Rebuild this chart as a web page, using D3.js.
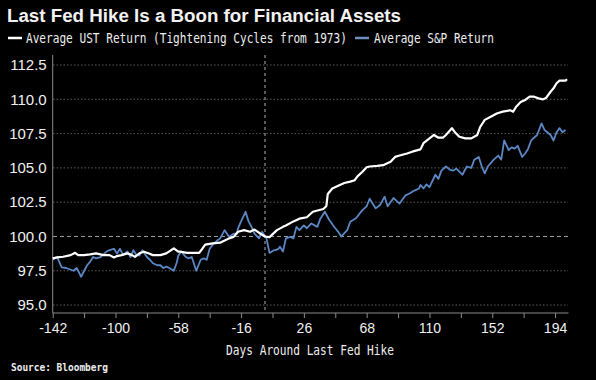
<!DOCTYPE html>
<html>
<head>
<meta charset="utf-8">
<script src="https://cdn.jsdelivr.net/npm/d3@7"></script>
<style>
  html, body { margin: 0; padding: 0; background: #000; }
  svg { display: block; }
</style>
</head>
<body>
<svg id="chart" width="596" height="380"></svg>
<script>
const title = "Last Fed Hike Is a Boon for Financial Assets";
const seriesNames = ["Average UST Return (Tightening Cycles from 1973)", "Average S&P Return"];
const xAxisTitle = "Days Around Last Fed Hike";
const source = "Source: Bloomberg";
const xTicks = [-142, -100, -58, -16, 26, 68, 110, 152, 194];
const yTicks = [95.0, 97.5, 100.0, 102.5, 105.0, 107.5, 110.0, 112.5];

const ustDays = [-142,-139,-135,-130,-127,-125,-121,-117,-113,-108,-104,-101,-99,-96,-92,-89,-87,-84,-81,-78,-75,-70,-66,-61,-58,-57,-52,-48,-44,-42,-40,-35,-30,-27,-24,-21,-18,-14,-10,-7,-3,0,3,8,12,14,19,23,28,32,39,41,42,45,49,53,57,60,62,65,68,70,75,79,84,87,90,95,99,104,106,110,113,116,119,121,124,125,127,130,134,138,142,144,147,151,155,159,164,166,168,171,174,177,180,183,186,188,191,193,195,197,201,202];
const ustValues = [98.40,98.47,98.52,98.64,98.81,98.64,98.64,98.69,98.77,98.64,98.64,98.47,98.57,98.64,98.77,98.64,98.52,98.77,98.89,98.77,98.64,98.64,98.77,99.13,98.89,98.90,98.80,98.80,98.80,99.10,99.40,99.50,99.55,99.70,99.86,99.97,100.34,100.46,100.34,100.50,100.20,100.00,99.95,100.46,100.70,100.80,101.10,101.30,101.40,101.80,102.00,102.20,103.10,103.50,103.70,103.90,104.00,104.10,104.40,104.70,105.05,105.10,105.15,105.20,105.45,105.80,105.90,106.05,106.20,106.35,106.80,107.15,107.40,107.20,107.20,107.40,107.76,107.90,107.60,107.27,107.15,107.15,107.40,108.00,108.50,108.73,108.97,109.10,109.20,109.10,109.46,109.80,109.95,110.19,110.19,110.07,110.00,110.10,110.55,110.80,111.17,111.36,111.36,111.46];

const spDays = [-142,-139,-136,-133,-128,-126,-124,-123,-119,-117,-115,-113,-110,-106,-104,-101,-99,-97,-95,-92,-90,-88,-86,-84,-82,-79,-77,-75,-72,-70,-68,-66,-64,-61,-59,-58,-56,-53,-51,-49,-46,-43,-41,-39,-37,-35,-32,-30,-27,-24,-21,-19,-18,-16,-13,-11,-9,-7,-4,-2,-1,1,3,6,7,9,10,12,14,17,19,21,23,26,28,31,35,37,40,43,47,49,51,55,57,59,61,65,68,70,74,77,80,82,86,90,94,97,99,101,103,104,106,108,110,114,116,118,121,124,126,128,132,135,138,140,143,145,147,149,153,156,158,160,163,165,167,169,172,174,176,178,182,185,187,191,193,195,197,199,201];
const spValues = [98.30,98.50,97.75,97.70,97.50,97.70,97.30,97.06,97.90,98.15,98.50,98.40,98.50,98.90,99.00,99.10,98.75,99.10,98.65,98.90,98.50,99.00,98.65,98.60,99.00,98.50,98.30,98.05,97.90,97.90,97.70,97.80,97.70,97.50,98.10,98.60,98.90,98.50,98.40,98.50,97.50,98.30,98.40,98.30,99.10,99.40,99.70,99.86,100.46,99.97,100.20,100.20,100.60,101.10,101.80,101.10,100.70,100.20,99.86,100.34,100.20,99.86,98.80,99.00,99.00,99.10,99.25,98.90,99.86,99.97,99.86,100.70,100.46,100.80,100.60,100.95,100.70,101.30,101.80,101.20,100.60,100.34,100.00,100.46,101.07,101.20,101.35,101.90,102.20,102.75,102.05,102.30,102.90,102.20,102.80,102.40,103.00,103.15,103.30,103.40,103.50,103.75,103.50,103.80,103.60,104.50,104.20,104.80,105.10,104.85,104.80,104.95,104.50,105.10,105.00,105.60,105.80,105.10,104.60,105.10,105.60,105.90,105.60,107.00,106.30,106.50,106.40,106.60,105.80,106.05,106.40,107.00,107.40,108.25,107.76,107.40,107.00,107.60,107.90,107.60,107.76];

const svg = d3.select("#chart");
const W = 596, H = 380;
svg.append("rect").attr("width", W).attr("height", H).attr("fill", "#000");

const x = d3.scaleLinear().domain([-142, 203]).range([52.7, 568.5]);
const y = d3.scaleLinear().domain([94.42, 113.23]).range([313, 55]);

const monoFont = "'DejaVu Sans Mono', 'Liberation Mono', monospace";
const sansFont = "'Liberation Sans', Arial, sans-serif";

// condensed mono text: font size chosen so natural width matches, stretched vertically
function monoText(parent, tx, ty, str, width, anchor, weight, vscale) {
  const fs = width / (str.length * 0.602);
  const t = parent.append("text")
    .attr("transform", `translate(${tx},${ty}) scale(1,${vscale})`)
    .attr("x", 0).attr("y", 0)
    .attr("fill", "#eeeeee").attr("font-family", monoFont)
    .attr("font-weight", weight).attr("font-size", fs)
    .attr("text-anchor", anchor)
    .text(str);
  return t;
}

// Title
svg.append("text").attr("x", 7).attr("y", 22)
  .attr("fill", "#f2f2f2").attr("font-family", sansFont).attr("font-weight", "bold")
  .attr("font-size", 17.5).attr("textLength", 394).attr("lengthAdjust", "spacingAndGlyphs")
  .text(title);

// Legend
const legendColors = ["#ffffff", "#6f8fbf"];
const legendItems = [
  {sx: 8, tx: 26, len: 321, name: seriesNames[0], color: legendColors[0]},
  {sx: 355, tx: 374, len: 120, name: seriesNames[1], color: legendColors[1]}
];
legendItems.forEach(d => {
  svg.append("line").attr("x1", d.sx).attr("x2", d.sx + 14).attr("y1", 38).attr("y2", 38)
    .attr("stroke", d.color).attr("stroke-width", 2.5);
  monoText(svg, d.tx, 42.5, d.name, d.len, "start", "normal", 1.2);
});

// Gridlines
const grid = svg.append("g");
yTicks.forEach(v => {
  const is100 = v === 100;
  grid.append("line").attr("x1", 53).attr("x2", 568).attr("y1", y(v)).attr("y2", y(v))
    .attr("stroke", is100 ? "#a0a0a0" : "#5a5a5a").attr("stroke-width", 1)
    .attr("stroke-dasharray", is100 ? "4,3" : "1.5,2");
});
// vertical line at day 0
grid.append("line").attr("x1", x(0)).attr("x2", x(0)).attr("y1", 55).attr("y2", 313)
  .attr("stroke", "#b0b0b0").attr("stroke-width", 1).attr("stroke-dasharray", "3,3");

// Y axis
const yAxis = d3.axisLeft(y).tickValues(yTicks).tickFormat(d3.format(".1f")).tickSize(0).tickPadding(6);
const gy = svg.append("g").attr("transform", `translate(${x(-142)},0)`).call(yAxis);
gy.select(".domain").remove();
gy.selectAll("text").attr("fill", "#f0f0f0").attr("font-family", sansFont).attr("font-size", 15);
svg.append("line").attr("x1", x(-142)).attr("x2", x(-142)).attr("y1", 55).attr("y2", 313)
  .attr("stroke", "#8a8a8a").attr("stroke-width", 1);

// X axis
const minorTicks = d3.range(-142, 204, 21);
const xAxis = d3.axisBottom(x).tickValues(minorTicks)
  .tickFormat(d => xTicks.includes(d) ? d : "").tickSize(5).tickSizeOuter(0).tickPadding(5);
const gx = svg.append("g").attr("transform", `translate(0,313)`).call(xAxis);
gx.select(".domain").attr("stroke", "#8a8a8a").attr("d", `M${x(-142)},0H568.5`);
gx.selectAll(".tick line").attr("stroke", "#8a8a8a");
gx.selectAll("text").attr("fill", "#f0f0f0").attr("font-family", sansFont).attr("font-size", 14);

// X axis title
monoText(svg, 310, 355, xAxisTitle, 168, "middle", "normal", 1.2);

// Source
monoText(svg, 11, 371, source, 97, "start", "bold", 1.15);

// Lines
const line = d3.line().x(d => x(d[0])).y(d => y(d[1]));
const spData = spDays.map((d, i) => [d, spValues[i]]);
const ustData = ustDays.map((d, i) => [d, ustValues[i]]);
svg.append("path").datum(spData).attr("d", line).attr("fill", "none")
  .attr("stroke", "#5b87c5").attr("stroke-width", 1.8).attr("stroke-linejoin", "round");
svg.append("path").datum(ustData).attr("d", line).attr("fill", "none")
  .attr("stroke", "#ffffff").attr("stroke-width", 2.2).attr("stroke-linejoin", "round");
</script>
</body>
</html>
